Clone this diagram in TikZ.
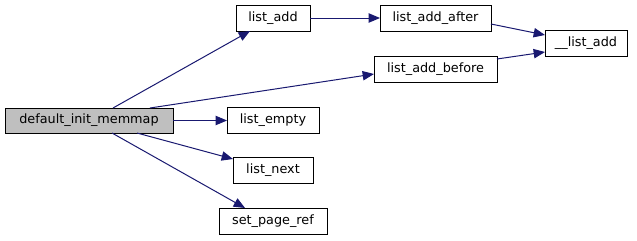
\documentclass[tikz,border=0pt]{standalone}
\usepackage{fontspec}
\setmainfont{DejaVu Sans}
\usetikzlibrary{arrows.meta, positioning}
\definecolor{edgeblue}{HTML}{191970}
\definecolor{nodegray}{HTML}{BFBFBF}

\begin{document}
\begin{tikzpicture}[x=0.75pt, y=-0.75pt, >={Triangle[length=8.5pt, width=7pt]},
  fn/.style={draw, fill=white, line width=0.75pt, minimum height=19.5pt, inner sep=0pt, outer sep=0pt, font=\fontsize{9.6}{11}\selectfont},
  call/.style={->, draw=edgeblue, line width=0.75pt}]
\useasboundingbox (0,0) rectangle (637,240);

% caller
\node[fn, fill=nodegray, minimum width=126pt, minimum height=18.75pt] (memmap) at (89,120.5) {default\_init\_memmap};

% callees
\node[fn, minimum width=55.5pt] (add) at (273,18) {list\_add};
\node[fn, minimum width=83.25pt] (after) at (435.5,18) {list\_add\_after};
\node[fn, minimum width=92.25pt] (before) at (435.5,69) {list\_add\_before};
\node[fn, minimum width=61.5pt] (rawadd) at (586,43) {\_\_list\_add};
\node[fn, minimum width=69pt] (empty) at (273,120.5) {list\_empty};
\node[fn, minimum width=60pt] (next) at (273,170) {list\_next};
\node[fn, minimum width=81pt] (pageref) at (273,221) {set\_page\_ref};

\draw[call] ([xshift=18pt]memmap.north) -- ([xshift=-17.25pt]add.south);
\draw[call] ([xshift=45.75pt]memmap.north) -- ([yshift=-3.75pt]before.west);
\draw[call] (memmap.east) -- (empty.west);
\draw[call] ([xshift=36pt]memmap.south) -- ([yshift=8.25pt]next.west);
\draw[call] ([xshift=17.25pt]memmap.south) -- ([xshift=-21pt]pageref.north);
\draw[call] (add.east) -- (after.west);
\draw[call] ([yshift=-4.5pt]after.east) -- ([yshift=6pt]rawadd.west);
\draw[call] ([yshift=7.5pt]before.east) -- ([yshift=-6.75pt]rawadd.west);
\end{tikzpicture}
\end{document}
